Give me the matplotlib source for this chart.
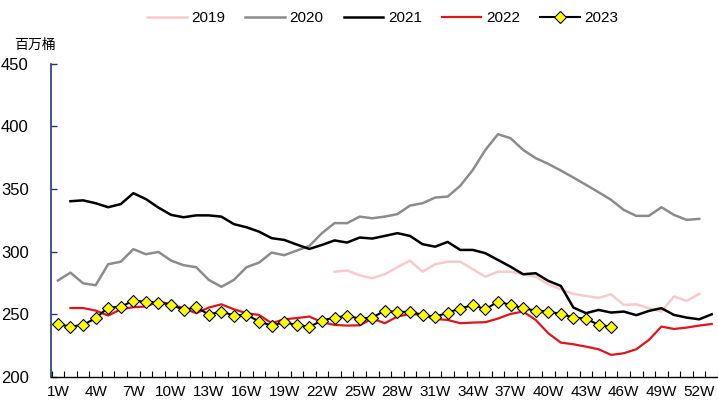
import matplotlib
matplotlib.use("Agg")
import matplotlib.pyplot as plt
from matplotlib.ticker import MultipleLocator

plt.rcParams['font.family'] = ['Liberation Sans', 'Noto Sans CJK SC', 'DejaVu Sans']

# 周度数据（百万桶）
weeks_2019 = list(range(23, 53))
v2019 = [284, 284.9, 281.2, 278.8, 282, 287.6, 292.9, 284, 290, 292, 292, 286, 280, 284,
         284, 282, 280, 274, 270, 266.3, 264.7, 263.1, 266, 257.5, 258, 254.9, 252.2,
         264.3, 260.7, 266.3]

weeks_2020 = list(range(1, 53))
v2020 = [277, 283.3, 274.8, 273.2, 290, 292, 302, 298, 299.8, 292.9, 289.2, 287.6, 277.5,
         272, 277.5, 287.6, 291.3, 299.3, 297.2, 300.9, 304.6, 314.8, 322.8, 322.8, 328,
         326.7, 328, 330, 336.8, 338.7, 343.2, 344, 352.6, 365.3, 381.3, 393.8, 390.6,
         381.3, 374.7, 370.1, 364.8, 359.2, 353.4, 347.5, 341.4, 333.4, 328.6, 328.6,
         335.5, 329.4, 325.4, 326.2]

weeks_2021 = list(range(2, 54))
v2021 = [340.3, 341, 338.7, 335.5, 338, 346.7, 342, 335.2, 329.4, 327.5, 329, 329, 328,
         322, 319.5, 316, 310.8, 309.4, 305.7, 302.2, 305.4, 309, 307.3, 311.3, 310.5,
         312.6, 314.8, 312.6, 306, 304, 307.8, 301.4, 301.4, 298.8, 293.4, 288, 282,
         282.8, 276.7, 272.7, 255.4, 250.9, 253.5, 251.4, 252.2, 249.3, 252.7, 254.9,
         249.5, 247.4, 246, 250]

weeks_2022 = list(range(2, 54))
v2022 = [255, 255, 253, 249, 254, 255.7, 256.2, 260.2, 258, 254.9, 250.9, 255.4, 258, 254,
         250.9, 249.5, 242.9, 246, 247, 248.2, 243.7, 241.5, 241, 241.2, 246.6, 242.9,
         248.2, 250.3, 249.5, 246.3, 245.5, 242.9, 243.4, 243.7, 246.6, 250.3, 252.2,
         245.5, 234.9, 227.4, 226.1, 224.2, 222.1, 217.6, 218.9, 222.1, 229.5, 240.2,
         238.3, 239.4, 241, 242.3]

weeks_2023 = list(range(1, 46))
v2023 = [242, 240.2, 241.5, 246.9, 255.4, 255.9, 261, 259.9, 259.4, 257.8, 253.5, 255.7,
         249.8, 252.2, 249, 249.8, 244.2, 241, 243.7, 241.5, 240, 245, 247.4, 248.7, 246.6,
         247.4, 252.9, 251.6, 252.2, 249.5, 247.9, 251.4, 254.6, 257.5, 254, 260.2, 257.5,
         254.9, 252.9, 252.2, 250.3, 247.4, 246.6, 241.5, 240.2]

tick_weeks = list(range(1, 53, 3))
tick_labels = [f"{w}W" for w in tick_weeks]

narrow = ['Liberation Sans Narrow', 'Liberation Sans']

fig = plt.figure(figsize=(7.18, 4.04), dpi=100)
ax = fig.add_axes([0.071, 0.067, 0.929, 0.775])

ax.plot(weeks_2019, v2019, color='#F8CBCB', lw=1.8, label='2019')
ax.plot(weeks_2020, v2020, color='#8C8C8C', lw=1.8, label='2020')
ax.plot(weeks_2021, v2021, color='black', lw=1.8, label='2021')
ax.plot(weeks_2022, v2022, color='#E0151B', lw=1.6, label='2022')
ax.plot(weeks_2023, v2023, color='black', lw=1.5, marker='D', markersize=6.5,
        markerfacecolor='#FFFF00', markeredgecolor='black', markeredgewidth=0.8,
        label='2023')

ax.set_ylim(200, 450)
ax.set_xlim(0.45, 53.2)
ax.yaxis.set_major_locator(MultipleLocator(50))
ax.set_xticks(tick_weeks)
ax.set_xticklabels(tick_labels, fontsize=11, family=narrow)
ax.set_xticks([w + 0.5 for w in range(0, 54)], minor=True)
ax.tick_params(axis='x', which='major', length=0, pad=6)
ax.tick_params(axis='x', which='minor', direction='in', length=4, width=0.8)
ax.tick_params(axis='y', direction='in', length=4, width=1, color='#1F3B73',
               labelsize=12, pad=16)

for s in ['top', 'right']:
    ax.spines[s].set_visible(False)
ax.spines['left'].set_color('#1F3B73')
ax.spines['left'].set_linewidth(1.2)
ax.spines['bottom'].set_color('black')
ax.spines['bottom'].set_linewidth(1.0)

fig.text(0.019, 0.88, '百万桶', fontsize=10, family=['Noto Sans CJK SC', 'DejaVu Sans'])

fig.legend(loc='center', bbox_to_anchor=(0.533, 0.955), ncol=5, frameon=False,
           prop={'family': narrow, 'size': 11}, handlelength=2.6, columnspacing=1.3,
           handletextpad=0.3)

fig.savefig('out.png', dpi=100)
